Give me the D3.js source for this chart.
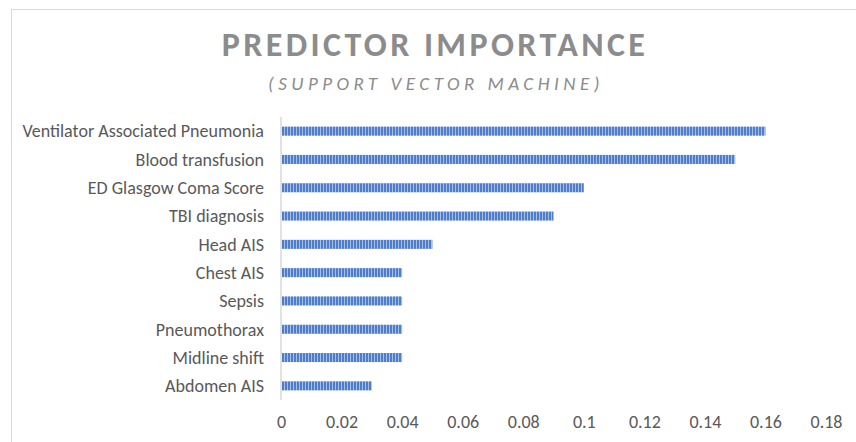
<!DOCTYPE html>
<html>
<head>
<meta charset="utf-8">
<script src="https://cdn.jsdelivr.net/npm/d3@7"></script>
<style>
  body { margin: 0; background: #fff; }
  svg { display: block; }
</style>
</head>
<body>
<svg id="chart" width="856" height="442"></svg>
<script>
const predictors = [
  "Ventilator Associated Pneumonia",
  "Blood transfusion",
  "ED Glasgow Coma Score",
  "TBI diagnosis",
  "Head AIS",
  "Chest AIS",
  "Sepsis",
  "Pneumothorax",
  "Midline shift",
  "Abdomen AIS"
]
const importance = [0.16, 0.15, 0.10, 0.09, 0.05, 0.04, 0.04, 0.04, 0.04, 0.03]
const xTicks = [0, 0.02, 0.04, 0.06, 0.08, 0.1, 0.12, 0.14, 0.16, 0.18]

const svg = d3.select('#chart')
const font = "Carlito, 'Open Sans', 'Noto Sans', sans-serif"

// chart frame
svg.append("rect")
  .attr("x", 11.5).attr("y", 9.5)
  .attr("width", 900).attr("height", 500)
  .attr("fill", "none")
  .attr("stroke", "#d9d9d9")

// stripe pattern for the bars
const defs = svg.append("defs")
const pat = defs.append("pattern")
  .attr("id", "stripes")
  .attr("patternUnits", "userSpaceOnUse")
  .attr("width", 3).attr("height", 10)
pat.append("rect").attr("width", 3).attr("height", 10).attr("fill", "#a6bfe6")
pat.append("rect").attr("width", 2).attr("height", 10).attr("fill", "#4f7dc9")

const x = d3.scaleLinear().domain([0, 0.18]).range([281, 826])
const y = d3.scaleBand().domain(predictors).range([117, 400]).paddingInner(0.68).paddingOuter(0.34)

svg.append("text")
  .attr("x", 435).attr("y", 56)
  .attr("text-anchor", "middle")
  .attr("font-family", font)
  .attr("font-size", 34).attr("font-weight", "bold")
  .attr("letter-spacing", 3.4)
  .attr("fill", "#8c8c8c")
  .text("PREDICTOR IMPORTANCE")

svg.append("text")
  .attr("x", 436).attr("y", 90)
  .attr("text-anchor", "middle")
  .attr("font-family", font)
  .attr("font-size", 19).attr("font-style", "italic")
  .attr("letter-spacing", 4.5)
  .attr("fill", "#8c8c8c")
  .text("(SUPPORT VECTOR MACHINE)")

svg.selectAll(".bar")
  .data(predictors)
  .enter().append("rect")
  .attr("class", "bar")
  .attr("x", x(0) + 1)
  .attr("y", d => y(d))
  .attr("width", (d, i) => x(importance[i]) - x(0) - 1)
  .attr("height", y.bandwidth())
  .attr("fill", "url(#stripes)")

// category labels
svg.selectAll(".label")
  .data(predictors)
  .enter().append("text")
  .attr("class", "label")
  .attr("x", 264)
  .attr("y", d => y(d) + y.bandwidth() / 2)
  .attr("dy", "0.35em")
  .attr("text-anchor", "end")
  .attr("font-family", font)
  .attr("font-size", 18)
  .attr("fill", "#595959")
  .text(d => d)

// vertical axis line
svg.append("line")
  .attr("x1", x(0)).attr("x2", x(0))
  .attr("y1", 117).attr("y2", 400)
  .attr("stroke", "#d9d9d9").attr("stroke-width", 1.5)

const xAxis = svg.append("g")
  .attr("transform", "translate(0,428)")
  .call(d3.axisBottom(x).tickValues(xTicks).tickSize(0).tickPadding(0).tickFormat(d => String(d)))
xAxis.select(".domain").remove()
xAxis.selectAll("text")
  .attr("dy", 0)
  .attr("font-family", font)
  .attr("font-size", 18)
  .attr("fill", "#595959")
</script>
</body>
</html>
